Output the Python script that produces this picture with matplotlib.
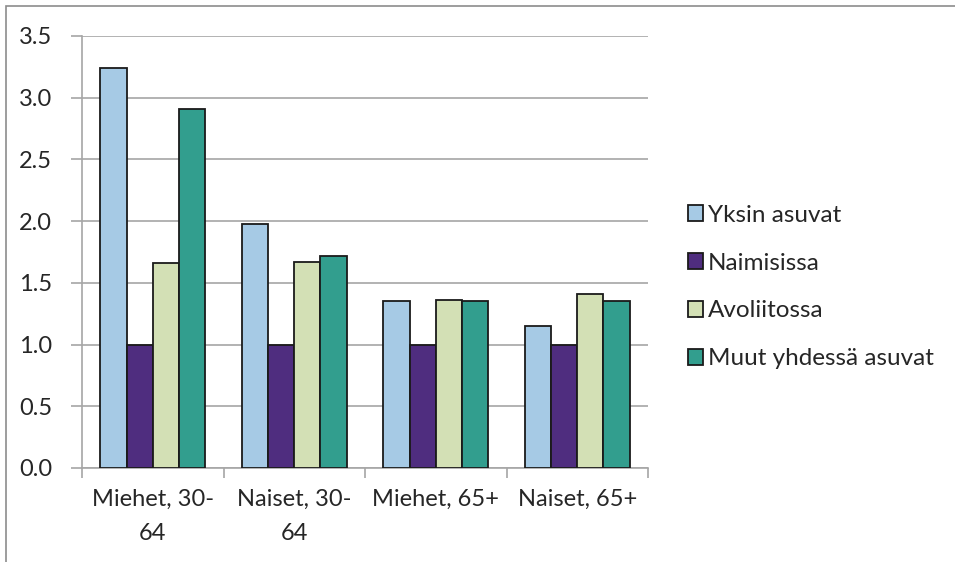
import matplotlib.pyplot as plt
from matplotlib.patches import Rectangle
import numpy as np

plt.rcParams['font.family'] = ['Lato', 'DejaVu Sans']
plt.rcParams['text.color'] = '#262626'

categories = ['Miehet, 30-\n64', 'Naiset, 30-\n64', 'Miehet, 65+', 'Naiset, 65+']
series = ['Yksin asuvat', 'Naimisissa', 'Avoliitossa', 'Muut yhdessä asuvat']
yksin = [3.24, 1.98, 1.35, 1.15]
naimisissa = [1.0, 1.0, 1.0, 1.0]
avoliitossa = [1.66, 1.67, 1.36, 1.41]
muut = [2.91, 1.72, 1.35, 1.35]
colors = ['#A6CAE5', '#4F2D7F', '#D3E0B5', '#329E8E']

fig = plt.figure(figsize=(9.55, 5.62), dpi=100)
fig.patches.append(Rectangle((6/955, -0.1), 1.2, 1 - 6/562 + 0.1, transform=fig.transFigure,
                             fill=False, edgecolor='#8C8C8C', lw=1.2))
ax = fig.add_axes([82/955, 1 - 468/562, 566/955, 432/562])

x = np.arange(len(categories))
w = 0.185
for i, (vals, name) in enumerate(zip([yksin, naimisissa, avoliitossa, muut], series)):
    ax.bar(x + (i - 1.5) * w, vals, w, color=colors[i], edgecolor='#1A1A1A', lw=1.3,
           label=name, zorder=3)

ax.set_ylim(0, 3.5)
ax.set_xlim(-0.5, 3.5)
ax.set_yticks(np.arange(0, 3.51, 0.5))
ax.set_yticklabels(['%.1f' % v for v in np.arange(0, 3.51, 0.5)], fontsize=17, color='#262626')
ax.yaxis.grid(True, color='#A6A6A6', lw=1.2, zorder=0)
ax.set_xticks(x)
ax.set_xticklabels(categories, fontsize=17, linespacing=1.75, color='#262626', va='top')
ax.set_xticks(np.arange(-0.5, 3.6, 1), minor=True)
ax.tick_params(axis='x', which='major', length=0, pad=15)
ax.tick_params(axis='x', which='minor', length=7, color='#A6A6A6', width=1.2)
ax.tick_params(axis='y', length=8, color='#A6A6A6', width=1.2, pad=13.5)
for s in ['top', 'right']:
    ax.spines[s].set_visible(False)
for s in ['left', 'bottom']:
    ax.spines[s].set_color('#A6A6A6')
    ax.spines[s].set_linewidth(1.2)

fig.legend(*ax.get_legend_handles_labels(), loc='center left',
           bbox_to_anchor=(688/955, 1 - 287/562), bbox_transform=fig.transFigure,
           frameon=False, fontsize=17.5, borderpad=0, borderaxespad=0,
           handlelength=0.63, handleheight=0.63, handletextpad=0.2, labelspacing=1.1)

fig.savefig('out.png', dpi=100)
